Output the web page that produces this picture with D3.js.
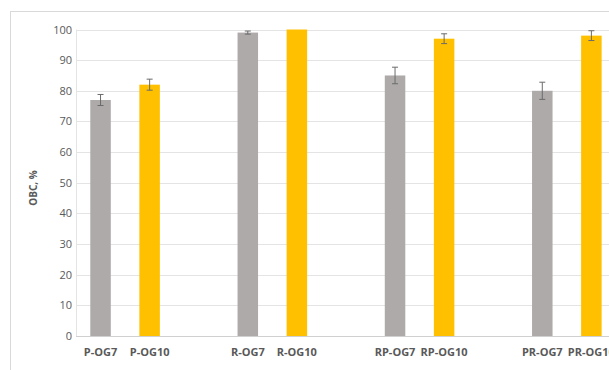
<!DOCTYPE html>
<html><head><meta charset="utf-8">
<script src="https://cdn.jsdelivr.net/npm/d3@7"></script>
<style>html,body{margin:0;padding:0;background:#fff;overflow:hidden;}svg{display:block;font-family:"Open Sans","Noto Sans",sans-serif;}</style>
</head><body>
<svg id="c" width="609" height="370"></svg>
<script>
const slots = ["P-OG7","P-OG10","g1","R-OG7","R-OG10","g2","RP-OG7","RP-OG10","g3","PR-OG7","PR-OG10","g4"];
const categories = ["P-OG7","P-OG10","R-OG7","R-OG10","RP-OG7","RP-OG10","PR-OG7","PR-OG10"];
const values = [77, 82, 99, 100, 85, 97, 80, 98];
const errors = [1.8, 1.8, 0.5, 0, 2.7, 1.6, 2.8, 1.6];
const seriesType = ["OG7","OG10","OG7","OG10","OG7","OG10","OG7","OG10"];
const yTicks = [0,10,20,30,40,50,60,70,80,90,100];
const colors = {OG7:"#aeaaaa", OG10:"#ffc000"};

const svg = d3.select("#c");
const x = d3.scaleBand().domain(slots).range([76, 665]).padding(0);
const y = d3.scaleLinear().domain([0,100]).range([336, 29.5]);
const barW = 20.5;

// outer frame
svg.append("rect").attr("x",10.5).attr("y",11.5).attr("width",700).attr("height",400)
  .attr("fill","none").attr("stroke","#d9d9d9");

// gridlines
svg.append("g").selectAll("line").data(yTicks).join("line")
  .attr("x1",76).attr("x2",665)
  .attr("y1",d=>Math.round(y(d))+0.5).attr("y2",d=>Math.round(y(d))+0.5)
  .attr("stroke",d=>d===0?"#d0d0d0":"#e4e4e4").attr("stroke-width",1);
svg.append("line").attr("x1",76.5).attr("x2",76.5).attr("y1",y(100)).attr("y2",y(0))
  .attr("stroke","#e4e4e4");

// y axis
const ya = svg.append("g").attr("transform","translate(72,0)")
  .call(d3.axisLeft(y).tickValues(yTicks).tickSize(0).tickPadding(0));
ya.select(".domain").remove();
ya.selectAll("text").attr("fill","#595959").style("font-size","11px")
  .style("font-family","'Open Sans','Noto Sans',sans-serif");

svg.append("text").attr("transform","translate(37,188) rotate(-90)")
  .attr("text-anchor","middle").attr("fill","#595959")
  .style("font-size","10px").style("font-weight","bold").text("OBC, %");

// bars
const data = categories.map((c,i)=>({c, v:values[i], e:errors[i], s:seriesType[i]}));
svg.append("g").selectAll("rect").data(data).join("rect")
  .attr("x",d=>x(d.c)+x.bandwidth()/2-barW/2)
  .attr("width",barW)
  .attr("y",d=>y(d.v)).attr("height",d=>y(0)-y(d.v))
  .attr("fill",d=>colors[d.s]);

// error bars
const eg = svg.append("g").attr("stroke","#6b6b6b").attr("stroke-width",1);
data.filter(d=>d.e>0).forEach(d=>{
  const cx = x(d.c)+x.bandwidth()/2;
  eg.append("line").attr("x1",cx).attr("x2",cx).attr("y1",y(d.v+d.e)).attr("y2",y(d.v-d.e));
  eg.append("line").attr("x1",cx-3).attr("x2",cx+3).attr("y1",y(d.v+d.e)).attr("y2",y(d.v+d.e));
  eg.append("line").attr("x1",cx-3).attr("x2",cx+3).attr("y1",y(d.v-d.e)).attr("y2",y(d.v-d.e));
});

// x labels
svg.append("g").selectAll("text").data(categories).join("text")
  .attr("x",d=>x(d)+x.bandwidth()/2).attr("y",356)
  .attr("text-anchor","middle").attr("fill","#595959")
  .style("font-size","11px").style("font-weight","bold").text(d=>d);
</script>
</body></html>
